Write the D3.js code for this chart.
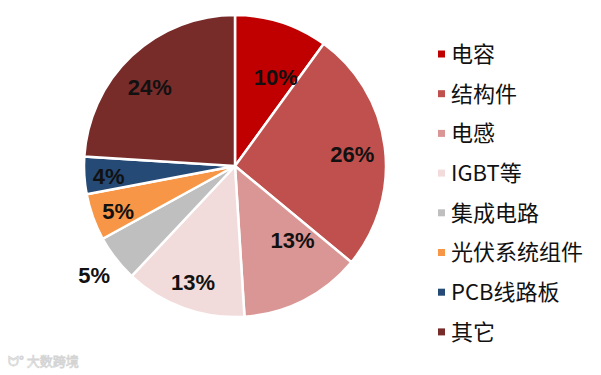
<!DOCTYPE html>
<html>
<head>
<meta charset="utf-8">
<script src="https://cdn.jsdelivr.net/npm/d3@7"></script>
<style>
  body { margin: 0; background: #fff; }
  svg { display: block; }
</style>
</head>
<body>
<svg id="chart" width="601" height="375"></svg>
<script>
// data, clockwise from 12 o'clock
let categories = ['电容', '结构件', '电感', 'IGBT等', '集成电路', '光伏系统组件', 'PCB线路板', '其它'];
let shares = [10, 26, 13, 13, 5, 5, 4, 24];
let labels = ['10%', '26%', '13%', '13%', '5%', '5%', '4%', '24%'];

let colors = ['#C00000', '#C0504D', '#D99694', '#F2DCDB', '#BFBFBF', '#F79646', '#254A76', '#772C2A'];
// label placement: share of radius and angle nudge (deg); grey one sits outside
let labelPos = [0.65, 0.78, 0.62, 0.82, 1.18, 0.83, 0.84, 0.77];
let labelTurn = [6.5, 1.5, -11, 0, 0, -1.5, -1, -4];

let cx = 235, cy = 166, radius = 151;

let svg = d3.select('#chart');

let pie = d3.pie()
    .sort(null)
    .value(d => d.value);

let data = categories.map((c, i) => ({name: c, value: shares[i], label: labels[i], idx: i}));
let arcs = pie(data);

let arc = d3.arc()
    .innerRadius(0)
    .outerRadius(radius);

let g = svg.append('g')
    .attr('transform', 'translate(' + cx + ',' + cy + ')');

g.selectAll('path')
    .data(arcs)
    .join('path')
    .attr('d', arc)
    .attr('fill', d => colors[d.data.idx])
    .attr('stroke', '#fff')
    .attr('stroke-width', 2.5)
    .attr('stroke-linejoin', 'miter');

function labelAngle(d) {
    return (d.startAngle + d.endAngle) / 2 + labelTurn[d.data.idx] * Math.PI / 180;
}

//labels
g.selectAll('text.lbl')
    .data(arcs)
    .join('text')
    .attr('class', 'lbl')
    .attr('x', d => Math.sin(labelAngle(d)) * radius * labelPos[d.data.idx])
    .attr('y', d => -Math.cos(labelAngle(d)) * radius * labelPos[d.data.idx])
    .attr('text-anchor', 'middle')
    .attr('dy', '0.36em')
    .attr('font-family', '"Liberation Sans", Arial, sans-serif')
    .attr('font-weight', 'bold')
    .attr('font-size', 22)
    .attr('fill', '#111')
    .text(d => d.data.label);

//legend
let legend = svg.append('g')
    .attr('transform', 'translate(438,54)');

let items = legend.selectAll('g')
    .data(data)
    .join('g')
    .attr('transform', (d, i) => 'translate(0,' + (i * 39.7) + ')');

items.append('rect')
    .attr('x', 0)
    .attr('y', -3.5)
    .attr('width', 7)
    .attr('height', 7)
    .attr('fill', d => colors[d.idx]);

items.append('text')
    .attr('x', 13)
    .attr('y', 0)
    .attr('dy', '0.36em')
    .attr('font-family', '"Noto Sans CJK SC", "Noto Sans", sans-serif')
    .attr('font-size', 22)
    .attr('fill', '#111')
    .text(d => d.name);

//watermark
svg.append('text')
    .attr('x', 8)
    .attr('y', 366)
    .attr('font-family', '"Noto Sans CJK SC", sans-serif')
    .attr('font-size', 13)
    .attr('fill', '#fff')
    .attr('stroke', '#d4d4d4')
    .attr('stroke-width', 0.8)
    .text('ᗢ° 大数跨境');
</script>
</body>
</html>
